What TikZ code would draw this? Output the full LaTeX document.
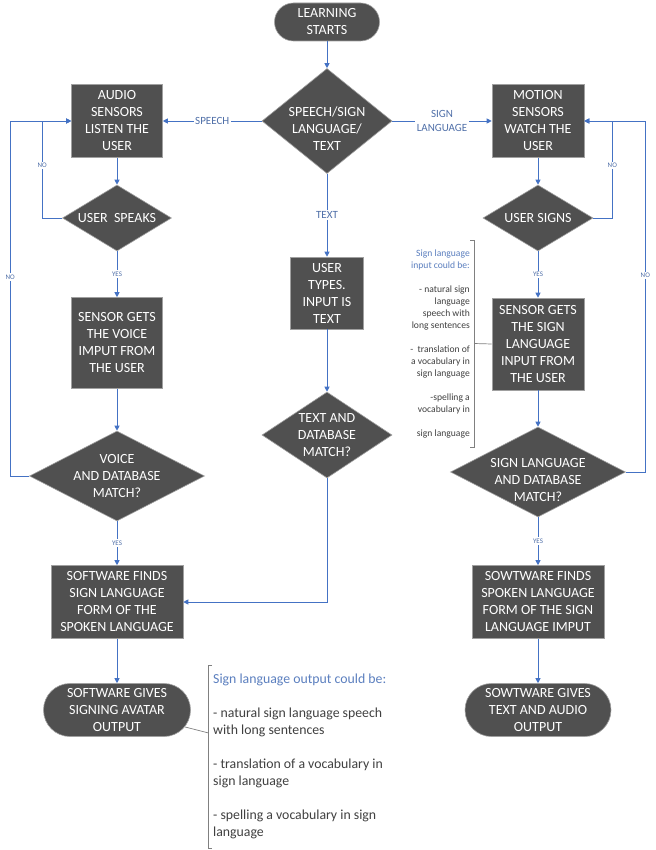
\documentclass[tikz,border=0pt]{standalone}
\usepackage{fontspec}
\setmainfont{Carlito}
\usetikzlibrary{shapes.geometric,shapes.misc,arrows.meta,calc}
\definecolor{boxfill}{HTML}{505050}
\definecolor{boxline}{HTML}{A0A0A0}
\definecolor{arrblue}{HTML}{4472C4}
\definecolor{lblblue}{HTML}{4F6FA8}
\definecolor{headblue}{HTML}{5B7FBF}
\definecolor{anntext}{HTML}{404040}
\definecolor{brkgray}{HTML}{808080}
\begin{document}
\begin{tikzpicture}[x=1pt,y=-1pt,
  base/.style={fill=boxfill,draw=boxline,line width=0.6pt,text=white,
    font=\fontsize{14}{17}\selectfont,align=center,inner sep=0pt},
  proc/.style={base,rectangle},
  term/.style={base,rounded rectangle},
  dia/.style={base,diamond},
  dtext/.style={text=white,font=\fontsize{14}{17}\selectfont,align=center,inner sep=0pt},
  arr/.style={draw=arrblue,line width=0.9pt,-{Triangle[length=5pt,width=5pt]}},
  lbl/.style={fill=white,text=lblblue,font=\fontsize{11}{14}\selectfont,align=center,inner sep=1.5pt},
  yn/.style={fill=white,text=lblblue,font=\fontsize{7}{8}\selectfont,inner sep=1.5pt},
  brk/.style={draw=brkgray,line width=0.7pt},
  annbig/.style={text=anntext,font=\fontsize{13.8}{17.5}\selectfont,align=left,inner xsep=5pt,inner ysep=9pt},
  annsmall/.style={text=anntext,font=\fontsize{9.6}{12}\selectfont,align=right,inner xsep=4pt,inner ysep=9pt}]

\path[use as bounding box,fill=white] (0,0) rectangle (655,850);

% nodes
\node[term,minimum width=105pt,minimum height=38pt] (start) at (327,22) {LEARNING\\STARTS};
\node[dia,minimum width=130pt,minimum height=105pt,
  label={[dtext,yshift=-8pt]center:{SPEECH/SIGN\\LANGUAGE/\\TEXT}}] (d1) at (327,121) {};
\node[proc,minimum width=91pt,minimum height=73pt] (audio) at (117,121) {AUDIO\\SENSORS\\LISTEN THE\\USER};
\node[proc,minimum width=92pt,minimum height=73pt] (motion) at (538,121) {MOTION\\SENSORS\\WATCH THE\\USER};
\node[dia,minimum width=109pt,minimum height=66pt,
  label={[dtext]center:{USER\ \ SPEAKS}}] (speaks) at (117,218) {};
\node[dia,minimum width=110pt,minimum height=66pt,
  label={[dtext]center:{USER SIGNS}}] (signs) at (538,218) {};
\node[proc,minimum width=73pt,minimum height=72pt] (types) at (327,293) {USER\\TYPES.\\INPUT IS\\TEXT};
\node[proc,minimum width=91pt,minimum height=91pt] (voice) at (117,343) {SENSOR GETS\\THE VOICE\\IMPUT FROM\\THE USER};
\node[proc,minimum width=92pt,minimum height=92pt] (signin) at (538,344) {SENSOR GETS\\THE SIGN\\LANGUAGE\\INPUT FROM\\THE USER};
\node[dia,minimum width=175pt,minimum height=90pt,
  label={[dtext]center:{VOICE\\AND DATABASE\\MATCH?}}] (vmatch) at (117,476) {};
\node[dia,minimum width=130pt,minimum height=86pt,
  label={[dtext]center:{TEXT AND\\DATABASE\\MATCH?}}] (tmatch) at (327,435) {};
\node[dia,minimum width=175pt,minimum height=90pt,
  label={[dtext,yshift=-8pt]center:{SIGN LANGUAGE\\AND DATABASE\\MATCH?}}] (smatch) at (538,472) {};
\node[proc,minimum width=132pt,minimum height=73pt] (sfind) at (117,602) {SOFTWARE FINDS\\SIGN LANGUAGE\\FORM OF THE\\SPOKEN LANGUAGE};
\node[proc,minimum width=132pt,minimum height=73pt] (wfind) at (538,602) {SOWTWARE FINDS\\SPOKEN LANGUAGE\\FORM OF THE SIGN\\LANGUAGE IMPUT};
\node[term,minimum width=147pt,minimum height=53pt] (out1) at (117,710) {SOFTWARE GIVES\\SIGNING AVATAR\\OUTPUT};
\node[term,minimum width=146pt,minimum height=53pt] (out2) at (538,710) {SOWTWARE GIVES\\TEXT AND AUDIO\\OUTPUT};

% annotations
\node[annbig,anchor=north west] (ann1) at (208,665)
  {\textcolor{headblue}{Sign language output could be:}\\[16pt]
   - natural sign language speech\\with long sentences\\[16pt]
   - translation of a vocabulary in\\sign language\\[16pt]
   - spelling a vocabulary in sign\\language};
\node[annsmall,anchor=east] (ann2) at (474,343.5)
  {\textcolor{headblue}{Sign language}\\\textcolor{headblue}{input could be:}\\[12pt]
   - natural sign\\language\\speech with\\long sentences\\[12pt]
   -\ \ translation of\\a vocabulary in\\sign language\\[12pt]
   -spelling a\\vocabulary in\\[12pt]
   sign language};
\draw[brk] ([xshift=4pt]ann1.north west) -- (ann1.north west) -- (ann1.south west) -- ([xshift=4pt]ann1.south west);
\draw[brk] ([xshift=-4pt]ann2.north east) -- (ann2.north east) -- (ann2.south east) -- ([xshift=-4pt]ann2.south east);
\draw[brk] (out1.-14) -- ($(ann1.north west)!0.37!(ann1.south west)$);
\draw[brk] (ann2.east) -- (signin.west);

% connectors
\draw[arr] (start.south) -- (d1.north);
\draw[arr] (d1.west) -- node[lbl,pos=0.5]{SPEECH} (audio.east);
\draw[arr] (d1.east) -- node[lbl,pos=0.5]{SIGN\\LANGUAGE} (motion.west);
\draw[arr] (d1.south) -- node[lbl,pos=0.5]{TEXT} (types.north);
\draw[arr] (audio.south) -- (speaks.north);
\draw[arr] (motion.south) -- (signs.north);
\draw[arr] (speaks.west) -- ++(-20,0) |- node[yn,pos=0.27]{NO} (audio.west);
\draw[arr] (vmatch.west) -- ++(-19,0) |- node[yn,pos=0.28]{NO} (audio.west);
\draw[arr] (signs.east) -- ++(19,0) |- node[yn,pos=0.27]{NO} (motion.east);
\draw[arr] (smatch.east) -- ++(19.5,0) |- node[yn,pos=0.28]{NO} (motion.east);
\draw[arr] (speaks.south) -- node[yn,pos=0.5]{YES} (voice.north);
\draw[arr] (signs.south) -- node[yn,pos=0.5]{YES} (signin.north);
\draw[arr] (voice.south) -- (vmatch.north);
\draw[arr] (signin.south) -- (smatch.north);
\draw[arr] (types.south) -- (tmatch.north);
\draw[arr] (vmatch.south) -- node[yn,pos=0.5]{YES} (sfind.north);
\draw[arr] (smatch.south) -- node[yn,pos=0.5]{YES} (wfind.north);
\draw[arr] (tmatch.south) |- (sfind.east);
\draw[arr] (sfind.south) -- (out1.north);
\draw[arr] (wfind.south) -- (out2.north);
\end{tikzpicture}
\end{document}
